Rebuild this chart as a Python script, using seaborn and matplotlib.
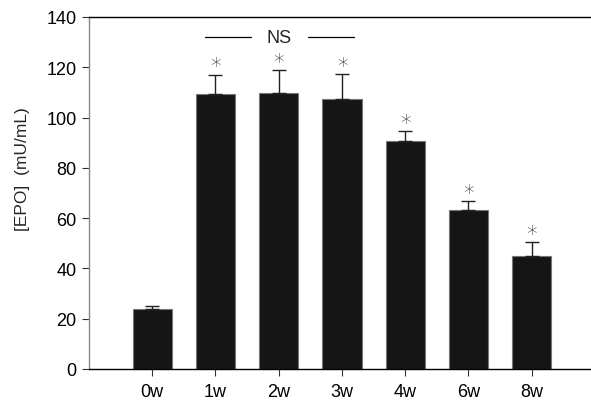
import matplotlib
matplotlib.use("Agg")
import matplotlib.pyplot as plt
import seaborn as sns
import numpy as np
import pandas as pd

weeks = ["0w", "1w", "2w", "3w", "4w", "6w", "8w"]
epo = [23.8, 109.3, 109.7, 107.4, 90.8, 63.4, 45.1]
sem = [1.4, 7.8, 9.2, 9.8, 3.7, 3.3, 5.3]
significant = [False, True, True, True, True, True, True]
yticks = [0, 20, 40, 60, 80, 100, 120, 140]

sns.set_style("ticks")
plt.rcParams["font.family"] = ["Liberation Sans", "DejaVu Sans"]

df = pd.DataFrame({"week": weeks, "epo": epo})

fig = plt.figure(figsize=(5.91, 4.02), dpi=100)
ax = fig.add_axes([89 / 591, 32 / 402, (593 - 89) / 591, (370 - 18) / 402])

sns.barplot(data=df, x="week", y="epo", color="#151515", width=0.62,
            edgecolor="#777777", linewidth=0.8, saturation=1, ax=ax, errorbar=None)

x = np.arange(len(weeks))
ax.errorbar(x, epo, yerr=[np.zeros(len(sem)), sem], fmt="none",
            ecolor="#222222", elinewidth=1.0, capsize=5, capthick=1.0)

for xi, v, s, sig in zip(x, epo, sem, significant):
    if sig:
        ax.text(xi, v + s + 3.4, "*", ha="center", va="center",
                fontsize=15, color="#333333", family="DejaVu Sans",
                fontweight="light")

# non-significant bracket between weeks 1-3
ax.plot([0.84, 1.56], [132, 132], color="black", lw=0.9)
ax.plot([2.46, 3.19], [132, 132], color="black", lw=0.9)
ax.text(2.0, 132, "NS", ha="center", va="center", fontsize=13)

ax.set_xlim(-1, 6.97)
ax.set_ylim(0, 140)
ax.set_yticks(yticks)
ax.set_xlabel("")
ax.set_ylabel("[EPO]  (mU/mL)", fontsize=12.5)
ax.yaxis.set_label_coords(-0.118, 0.57)
ax.tick_params(axis="both", labelsize=13, length=5, width=0.8,
               colors="#333333", labelcolor="black")
ax.tick_params(axis="x", pad=5)
ax.tick_params(axis="y", pad=4)

ax.spines["right"].set_visible(False)
ax.spines["top"].set_visible(True)
ax.spines["top"].set_linewidth(1.0)
ax.spines["bottom"].set_linewidth(1.0)
ax.spines["left"].set_color("#888888")
ax.spines["left"].set_linewidth(1.0)
for s in ["top", "bottom"]:
    ax.spines[s].set_color("black")

fig.savefig("out.png", dpi=100)
